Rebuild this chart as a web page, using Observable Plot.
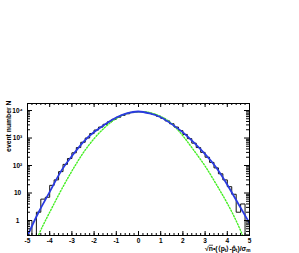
<!DOCTYPE html>
<html>
<head>
<meta charset="utf-8">
<script src="https://cdn.jsdelivr.net/npm/d3@7"></script>
<script src="https://cdn.jsdelivr.net/npm/@observablehq/plot@0.6"></script>
<style>
  html, body { margin: 0; padding: 0; background: #fff; }
  svg { display: block; }
</style>
</head>
<body>
<div id="chart"></div>
<script>
// ---- data ----
const binStart = -5, binWidth = 0.2;
const histCounts = [1,0,2,6,7,19,30,60,110,180,290,450,700,1000,1450,1950,2500,3150,3900,4800,5700,6700,7600,8400,8900,
                    9000,8700,8000,7200,6200,5200,4200,3300,2500,1850,1350,950,650,450,300,200,130,82,50,30,17,9,2,4,0];
const fitX = [-5,-4.5,-4,-3.5,-3,-2.5,-2,-1.5,-1,-0.5,0,0.5,1,1.5,2,2.5,3,3.5,4,4.5,5];
const blueFit  = [0.28,2.0,11,60,220,700,1650,3200,5600,8000,9200,7800,5700,3200,1600,680,260,85,20,4,0.8];
const greenFit = [0.03,0.30,2.0,12,63,280,950,2500,5100,7900,9100,8400,6100,3300,1200,350,95,21,4.2,0.65,0.07];
const xTicks = [-5,-4,-3,-2,-1,0,1,2,3,4,5];
const yMajor = [1,10,100,1000,10000];
const yLabels = ["1","10","10²","10³","10⁴"];
const yTitle = "event number N";

// ---- derived tables ----
const histPts = histCounts.map((c,i)=>({x: binStart + i*binWidth, y: c > 0 ? c : 0.01}));
histPts.push({x: binStart + histCounts.length*binWidth, y: histPts[histPts.length-1].y});
const blue = fitX.map((x,i)=>({x, y: blueFit[i]}));
const green = fitX.map((x,i)=>({x, y: greenFit[i]}));
const xMinor = d3.range(-50, 51, 2).map(d=>d/10);
const yMinor = [];
for (const dec of [0.1,1,10,100,1000,10000]) for (let k=2;k<=9;k++) yMinor.push(dec*k);
const labelOf = new Map(yMajor.map((v,i)=>[v, yLabels[i]]));

const W = 299, H = 253, mL = 27, mR = 50, mT = 103, mB = 18;
const fw = W - mL - mR, fh = H - mT - mB;
const font = "'Liberation Sans', Arial, sans-serif";
const yIn = yMinor.filter(v=>v>0.285&&v<18000);

const chart = Plot.plot({
  width: W, height: H,
  marginLeft: mL, marginRight: mR, marginTop: mT, marginBottom: mB,
  style: {fontFamily: font, background: "#fff", overflow: "visible"},
  x: {domain: [-5, 5], axis: null},
  y: {type: "log", domain: [0.285, 18000], axis: null},
  marks: [
    // histogram
    Plot.line(histPts, {x: "x", y: "y", curve: "step-after", stroke: "#111", strokeWidth: 1, clip: true}),
    // green dotted gaussian
    Plot.line(green, {x: "x", y: "y", curve: "natural", stroke: "#44ee22", strokeWidth: 1.4, strokeDasharray: "1.2,1.8", clip: true}),
    // blue fit
    Plot.line(blue, {x: "x", y: "y", curve: "natural", stroke: "#2a3ae0", strokeWidth: 1.8, clip: true}),
    // inner ticks: x minor/major bottom & top
    Plot.ruleX(xMinor, {x: d=>d, insetTop: fh - 2, stroke: "#000"}),
    Plot.ruleX(xMinor, {x: d=>d, insetBottom: fh - 2, stroke: "#000"}),
    Plot.ruleX(xTicks, {x: d=>d, insetTop: fh - 4, stroke: "#000"}),
    Plot.ruleX(xTicks, {x: d=>d, insetBottom: fh - 4, stroke: "#000"}),
    // y ticks left & right
    Plot.ruleY(yIn, {y: d=>d, insetRight: fw - 3, stroke: "#000"}),
    Plot.ruleY(yIn, {y: d=>d, insetLeft: fw - 3, stroke: "#000"}),
    Plot.ruleY(yMajor, {y: d=>d, insetRight: fw - 5, stroke: "#000"}),
    Plot.ruleY(yMajor, {y: d=>d, insetLeft: fw - 5, stroke: "#000"}),
    Plot.frame({stroke: "#000", strokeWidth: 1}),
    // tick labels
    Plot.axisX({ticks: xTicks, tickSize: 0, tickPadding: 2.5, tickFormat: d=>String(d).replace("−","-"), fontWeight: "bold", fontSize: 6.5, label: null}),
    Plot.axisY({ticks: yMajor, tickSize: 0, tickPadding: 10, textAnchor: "middle", tickFormat: d=>labelOf.get(d), fontWeight: "bold", fontSize: 6.5, label: null}),
    // axis titles
    Plot.text([yTitle], {frameAnchor: "top-left", text: d=>d, rotate: -90, textAnchor: "end", dx: -21, dy: -3, fontWeight: "bold", fontSize: 6.8}),
    Plot.text(["XTITLE"], {frameAnchor: "bottom-right", text: d=>d, textAnchor: "end", dx: 1, dy: 15.3, fontWeight: "bold", fontSize: 6.8})
  ]
});

// rich text for the x-axis title
d3.select(chart).selectAll("text").filter(function(){ return this.textContent === "XTITLE"; })
  .each(function(){
    const t = d3.select(this);
    t.text(null);
    const parts = [["√",0],["n",0,"over"],["•(⟨p",0],["t",1],["⟩-p̂",0],["t",1],[")/σ",0],["m",1]];
    for (const [s, sub, dec] of parts) {
      const ts = t.append("tspan").text(s);
      if (sub) ts.attr("font-size", 4.8).attr("baseline-shift", "-25%");
      if (dec) ts.attr("text-decoration", "overline");
    }
  });

document.getElementById("chart").appendChild(chart);
</script>
</body>
</html>
